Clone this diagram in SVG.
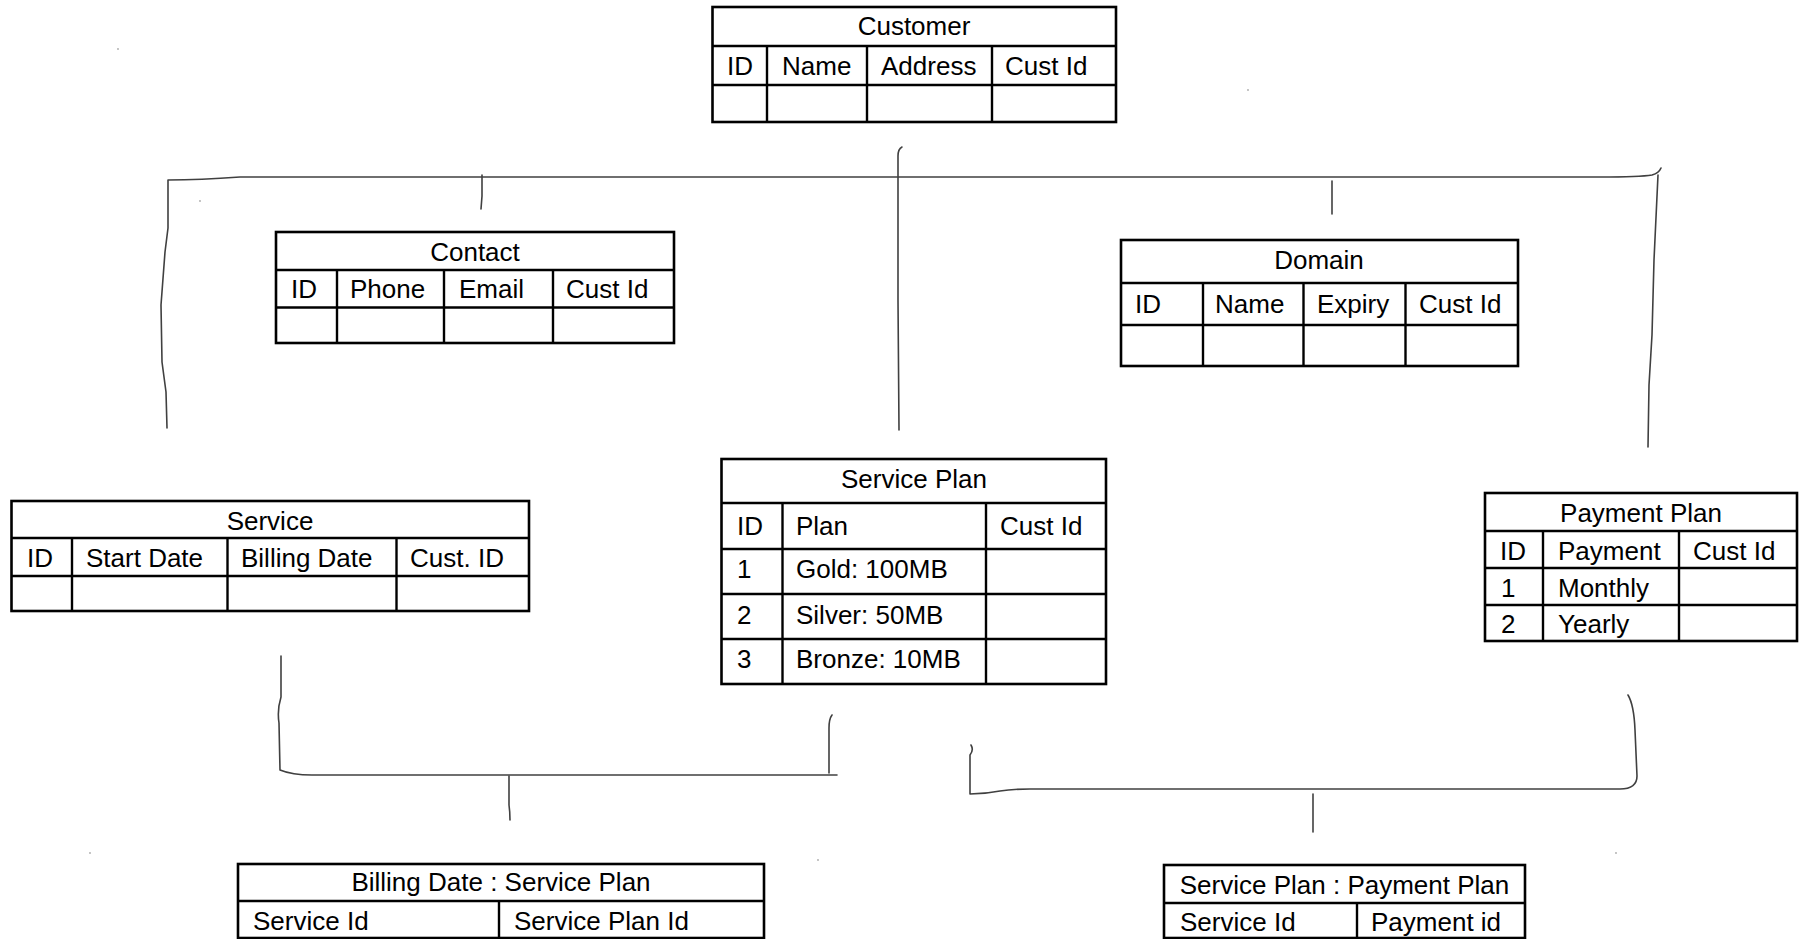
<svg xmlns="http://www.w3.org/2000/svg" width="1802" height="939" viewBox="0 0 1802 939">
<style>
.box{fill:#fff;stroke:#000;stroke-width:2.6}
.ln{stroke:#000;stroke-width:2.4}
text{font-family:"Liberation Sans",Arial,sans-serif;font-size:26px;fill:#000}
.c{text-anchor:middle}
.con{fill:none;stroke:#404040;stroke-width:1.6;stroke-linecap:round;stroke-linejoin:round}
.sp{fill:#aaa}
</style>
<rect width="1802" height="939" fill="#fff"/>
<g id="connectors">
<path class="con" d="M167 428 L166 392 L162 362 L161 305 L165 252 L168 228 L168 180 Q200 180 240 177 L1600 177 Q1640 177 1652 175 Q1659 173 1661 168"/>
<path class="con" d="M1658 175 L1654 260 L1652 335 L1649 385 L1648 447"/>
<path class="con" d="M482 175 L482 196 L481 209"/>
<path class="con" d="M902 147 Q898 149 898 156 L898 300 L899 430"/>
<path class="con" d="M1332 181 L1332 214"/>
<path class="con" d="M281 656 L281 697 Q277 710 279 723 L280 770 Q292 775 312 775 L837 775"/>
<path class="con" d="M832 715 Q829 719 829 728 L829 773"/>
<path class="con" d="M509 776 L509 805 Q510 812 510 820"/>
<path class="con" d="M971 745 Q974 750 970 755 L970 794 Q985 794 1000 791 Q1012 789 1030 789 L1620 789 Q1637 789 1637 776 L1635 730 Q1634 705 1628 695"/>
<path class="con" d="M1313 794 L1313 832"/>
</g>
<g id="specks">
<circle class="sp" cx="118" cy="49" r="0.9"/>
<circle class="sp" cx="1248" cy="90" r="0.9"/>
<circle class="sp" cx="200" cy="201" r="0.9"/>
<circle class="sp" cx="90" cy="853" r="0.9"/>
<circle class="sp" cx="818" cy="860" r="0.9"/>
<circle class="sp" cx="1616" cy="853" r="0.9"/>
</g>
<g id="customer">
<rect class="box" x="712.5" y="7" width="403.5" height="115"/>
<line class="ln" x1="712.5" y1="46" x2="1116" y2="46"/>
<line class="ln" x1="712.5" y1="85" x2="1116" y2="85"/>
<line class="ln" x1="767" y1="46" x2="767" y2="122"/>
<line class="ln" x1="867" y1="46" x2="867" y2="122"/>
<line class="ln" x1="992" y1="46" x2="992" y2="122"/>
<text class="c" x="914" y="35">Customer</text>
<text x="727" y="75">ID</text>
<text x="782" y="75">Name</text>
<text x="881" y="75">Address</text>
<text x="1005" y="75">Cust Id</text>
</g>
<g id="contact">
<rect class="box" x="276" y="232" width="398" height="111"/>
<line class="ln" x1="276" y1="270" x2="674" y2="270"/>
<line class="ln" x1="276" y1="307.5" x2="674" y2="307.5"/>
<line class="ln" x1="337" y1="270" x2="337" y2="343"/>
<line class="ln" x1="444" y1="270" x2="444" y2="343"/>
<line class="ln" x1="553" y1="270" x2="553" y2="343"/>
<text class="c" x="475" y="261">Contact</text>
<text x="291" y="298">ID</text>
<text x="350" y="298">Phone</text>
<text x="459" y="298">Email</text>
<text x="566" y="298">Cust Id</text>
</g>
<g id="domain">
<rect class="box" x="1121" y="240" width="397" height="126"/>
<line class="ln" x1="1121" y1="283" x2="1518" y2="283"/>
<line class="ln" x1="1121" y1="325" x2="1518" y2="325"/>
<line class="ln" x1="1203" y1="283" x2="1203" y2="366"/>
<line class="ln" x1="1303.5" y1="283" x2="1303.5" y2="366"/>
<line class="ln" x1="1405.5" y1="283" x2="1405.5" y2="366"/>
<text class="c" x="1319" y="269">Domain</text>
<text x="1135" y="313">ID</text>
<text x="1215" y="313">Name</text>
<text x="1317" y="313">Expiry</text>
<text x="1419" y="313">Cust Id</text>
</g>
<g id="service">
<rect class="box" x="11.5" y="501" width="517.5" height="110"/>
<line class="ln" x1="11.5" y1="538" x2="529" y2="538"/>
<line class="ln" x1="11.5" y1="576" x2="529" y2="576"/>
<line class="ln" x1="72" y1="538" x2="72" y2="611"/>
<line class="ln" x1="227.5" y1="538" x2="227.5" y2="611"/>
<line class="ln" x1="396.5" y1="538" x2="396.5" y2="611"/>
<text class="c" x="270" y="530">Service</text>
<text x="27" y="567">ID</text>
<text x="86" y="567">Start Date</text>
<text x="241" y="567">Billing Date</text>
<text x="410" y="567">Cust. ID</text>
</g>
<g id="service-plan">
<rect class="box" x="721.5" y="459" width="384.5" height="225"/>
<line class="ln" x1="721.5" y1="503" x2="1106" y2="503"/>
<line class="ln" x1="721.5" y1="549" x2="1106" y2="549"/>
<line class="ln" x1="721.5" y1="594" x2="1106" y2="594"/>
<line class="ln" x1="721.5" y1="639" x2="1106" y2="639"/>
<line class="ln" x1="782.5" y1="503" x2="782.5" y2="684"/>
<line class="ln" x1="986" y1="503" x2="986" y2="684"/>
<text class="c" x="914" y="488">Service Plan</text>
<text x="737" y="535">ID</text>
<text x="796" y="535">Plan</text>
<text x="1000" y="535">Cust Id</text>
<text x="737" y="578">1</text>
<text x="796" y="578">Gold: 100MB</text>
<text x="737" y="624">2</text>
<text x="796" y="624">Silver: 50MB</text>
<text x="737" y="668">3</text>
<text x="796" y="668">Bronze: 10MB</text>
</g>
<g id="payment-plan">
<rect class="box" x="1485" y="493" width="312" height="148"/>
<line class="ln" x1="1485" y1="531" x2="1797" y2="531"/>
<line class="ln" x1="1485" y1="568" x2="1797" y2="568"/>
<line class="ln" x1="1485" y1="605" x2="1797" y2="605"/>
<line class="ln" x1="1543" y1="531" x2="1543" y2="641"/>
<line class="ln" x1="1679" y1="531" x2="1679" y2="641"/>
<text class="c" x="1641" y="522">Payment Plan</text>
<text x="1500" y="560">ID</text>
<text x="1558" y="560">Payment</text>
<text x="1693" y="560">Cust Id</text>
<text x="1501" y="597">1</text>
<text x="1558" y="597">Monthly</text>
<text x="1501" y="633">2</text>
<text x="1558" y="633">Yearly</text>
</g>
<g id="billing-date-service-plan">
<rect class="box" x="238" y="864" width="526" height="74"/>
<line class="ln" x1="238" y1="901" x2="764" y2="901"/>
<line class="ln" x1="499" y1="901" x2="499" y2="938"/>
<text class="c" x="501" y="891">Billing Date : Service Plan</text>
<text x="253" y="930">Service Id</text>
<text x="514" y="930">Service Plan Id</text>
</g>
<g id="service-plan-payment-plan">
<rect class="box" x="1164" y="865" width="361" height="73"/>
<line class="ln" x1="1164" y1="903" x2="1525" y2="903"/>
<line class="ln" x1="1357" y1="903" x2="1357" y2="938"/>
<text class="c" x="1344.5" y="894">Service Plan : Payment Plan</text>
<text x="1180" y="931">Service Id</text>
<text x="1371" y="931">Payment id</text>
</g>
</svg>
